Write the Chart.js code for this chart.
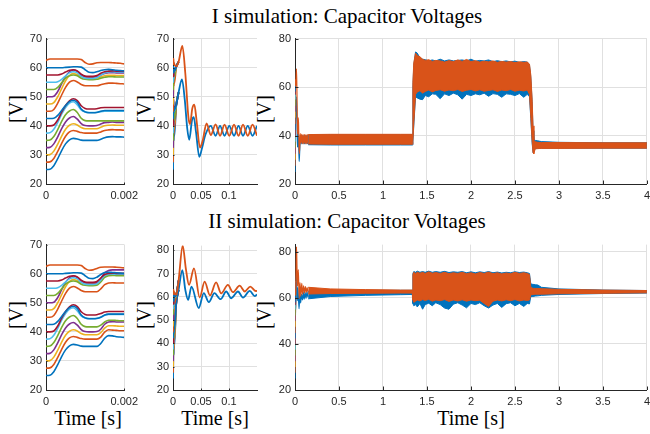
<!DOCTYPE html>
<html><head><meta charset="utf-8">
<script src="https://cdn.jsdelivr.net/npm/chart.js@4/dist/chart.umd.min.js"></script>
<style>
html,body{margin:0;padding:0;background:#fff;width:650px;height:434px;overflow:hidden;position:relative}
canvas{position:absolute}
.t{position:absolute;font-family:"Liberation Serif","Times New Roman",serif;color:#000;white-space:nowrap;font-size:20px;line-height:20px}
.ttl{font-size:21px;line-height:21px}
.c{transform:translateX(-50%)}
.r{transform:translate(-50%,-50%) rotate(-90deg)}
</style></head><body>
<div class="t ttl c" style="left:347px;top:6px">I simulation: Capacitor Voltages</div>
<div class="t ttl c" style="left:347px;top:211px">II simulation: Capacitor Voltages</div>
<div class="t r" style="left:16px;top:109px">[V]</div>
<div class="t r" style="left:144px;top:109px">[V]</div>
<div class="t r" style="left:264px;top:109px">[V]</div>
<div class="t r" style="left:16px;top:315px">[V]</div>
<div class="t r" style="left:144px;top:315px">[V]</div>
<div class="t r" style="left:264px;top:315px">[V]</div>
<div class="t c" style="left:88px;top:408px">Time [s]</div>
<div class="t c" style="left:215px;top:408px">Time [s]</div>
<div class="t c" style="left:471px;top:408px">Time [s]</div>
<canvas id="p1"></canvas><canvas id="p2"></canvas><canvas id="p3"></canvas>
<canvas id="p4"></canvas><canvas id="p5"></canvas><canvas id="p6"></canvas>
<script>
// ---------- data ----------
const colors = ['#0072BD','#D95319','#EDB120','#7E2F8E','#77AC30','#4DBEEE','#A2142F'];
const capT = [0,0.0001,0.0002,0.0003,0.0004,0.0005,0.0006,0.0007,0.0008,0.0009,0.001,0.0011,0.0012,0.0013,0.0014,0.0015,0.0016,0.0017,0.0018,0.0019,0.002];

const capsRow1 = [
 [25,25.1,26.3,28.7,31.5,33.8,35.2,35.7,35.5,35.1,35.0,35.0,35.0,35.0,35.4,35.9,36.2,36.3,36.2,36.2,36.1],
 [27.5,27.6,28.8,31.2,34.0,36.4,37.9,38.4,38.1,37.7,37.5,37.5,37.5,37.5,37.9,38.4,38.6,38.7,38.6,38.6,38.5],
 [30,30.1,31.3,33.7,36.5,38.8,40.2,40.7,40.3,39.4,39.0,39.0,39.0,39.0,39.5,40.0,40.2,40.3,40.2,40.2,40.2],
 [32.5,32.6,33.8,36.2,39.0,41.3,42.7,43.2,42.3,40.8,40.1,40.0,40.0,40.1,40.6,41.1,41.2,41.3,41.2,41.2,41.2],
 [35,35.1,36.3,38.7,41.5,43.8,45.1,45.6,44.6,42.6,41.8,41.7,41.7,41.7,41.7,41.7,41.7,41.7,41.7,41.7,41.7],
 [37.5,37.6,38.8,41.2,44.0,46.3,47.8,48.3,47.2,45.5,44.8,44.6,44.6,44.7,44.9,45.0,45.0,45.0,45.0,45.0,45.0],
 [40,40,40.3,42.0,44.7,47.0,48.6,49.3,48.7,46.9,46.0,45.8,45.8,45.9,46.2,46.3,46.3,46.3,46.3,46.3,46.3],
 [42.5,42.5,42.6,43.6,45.3,47.0,48.3,48.8,48.0,45.8,44.8,44.5,44.5,44.6,45.0,45.3,45.3,45.3,45.3,45.3,45.3],
 [45,45,45.6,47.8,50.6,53.2,55.0,55.6,55.1,54.2,53.8,53.8,53.8,53.8,54.1,54.5,54.7,54.7,54.6,54.5,54.4],
 [47.5,47.5,48.0,50.0,52.8,55.5,57.3,58.0,57.6,56.9,56.5,56.4,56.4,56.5,56.9,57.2,57.4,57.4,57.3,57.3,57.3],
 [50,50,50.2,51.8,54.5,57.0,58.6,59.2,58.7,57.5,56.9,56.8,56.8,56.9,57.5,58.0,58.3,58.3,58.2,58.2,58.2],
 [52.5,52.5,52.5,53.2,54.8,56.4,57.2,57.5,57.2,56.4,56.0,55.9,55.9,56.0,56.4,56.7,56.9,56.9,56.8,56.8,56.8],
 [55,55,55,55.2,56.0,57.2,58.2,58.6,58.2,57.0,56.4,56.3,56.3,56.6,57.5,58.2,58.5,58.6,58.5,58.5,58.5],
 [57.5,57.5,57.5,57.5,57.8,58.5,59.1,59.3,58.9,57.8,57.1,57.0,57.0,57.3,58.1,58.6,58.8,58.9,58.8,58.8,58.8],
 [60,60,60,60,60,60.1,60.2,60.3,60.3,60.2,59.3,58.4,58.3,58.6,59.0,59.3,59.4,59.3,59.1,59.0,58.9],
 [62.5,63.0,63.0,63.0,63.0,63.0,63.0,63.0,63.0,62.8,61.8,61.2,61.3,61.7,61.8,61.8,61.8,61.7,61.6,61.5,61.3]
];
const capsRow2 = [
 [25,25.1,26.3,28.7,31.5,33.8,35.2,35.7,35.5,35.1,35.0,35.0,35.0,35.0,36.0,37.8,38.7,38.6,38.3,38.2,38.1],
 [27.5,27.6,28.8,31.2,34.0,36.4,37.9,38.4,38.1,37.7,37.5,37.5,37.5,37.5,38.2,39.9,40.7,40.6,40.5,40.4,40.4],
 [30,30.1,31.3,33.7,36.5,38.8,40.2,40.7,40.3,39.4,39.0,39.0,39.0,39.0,39.7,41.3,42.1,42.1,42.0,41.9,41.9],
 [32.5,32.6,33.8,36.2,39.0,41.3,42.7,43.2,42.3,40.8,40.1,40.0,40.0,40.1,40.9,42.6,43.4,43.5,43.4,43.4,43.4],
 [35,35.1,36.3,38.7,41.5,43.8,45.1,45.6,44.6,42.6,41.8,41.7,41.7,41.7,42.3,43.4,44.0,44.0,43.9,43.8,43.8],
 [37.5,37.6,38.8,41.2,44.0,46.3,47.8,48.3,47.2,45.5,44.8,44.6,44.6,44.7,45.0,45.7,46.0,46.0,46.0,46.0,46.0],
 [40,40,40.3,42.0,44.7,47.0,48.6,49.3,48.7,46.9,46.0,45.8,45.8,45.9,46.3,46.8,47.0,47.0,47.0,47.0,47.0],
 [42.5,42.5,42.6,43.6,45.3,47.0,48.3,48.8,48.0,45.8,44.8,44.5,44.5,44.6,45.0,45.8,46.1,46.1,46.1,46.1,46.1],
 [45,45,45.6,47.8,50.6,53.2,55.0,55.6,55.1,54.2,53.8,53.8,53.8,53.8,54.8,56.2,56.8,56.9,56.8,56.8,56.8],
 [47.5,47.5,48.0,50.0,52.8,55.5,57.3,58.0,57.6,56.9,56.5,56.4,56.4,56.5,57.6,59.0,59.6,59.7,59.6,59.6,59.6],
 [50,50,50.2,51.8,54.5,57.0,58.6,59.2,58.7,57.5,56.9,56.8,56.8,56.9,58.3,60.3,61.1,61.3,61.3,61.3,61.3],
 [52.5,52.5,52.5,53.2,54.8,56.4,57.2,57.5,57.2,56.4,56.0,55.9,55.9,56.0,57.2,58.7,59.3,59.4,59.3,59.3,59.3],
 [55,55,55,55.2,56.0,57.2,58.2,58.6,58.2,57.0,56.4,56.3,56.3,56.5,57.8,59.3,59.8,59.9,59.8,59.8,59.8],
 [57.5,57.5,57.5,57.5,57.8,58.5,59.1,59.3,58.9,57.8,57.1,57.0,57.0,57.3,58.5,59.7,60.1,60.2,60.1,60.1,60.1],
 [60,60,60,60,60,60.1,60.2,60.3,60.3,60.2,59.3,58.4,58.3,58.8,59.7,60.4,60.5,60.4,60.3,60.2,60.1],
 [62.5,63.0,63.0,63.0,63.0,63.0,63.0,63.0,63.0,62.8,61.8,61.2,61.3,61.8,62.2,62.3,62.3,62.3,62.2,62.1,62.0]
];

// transient trajectories (group A = caps 0-7, group B = caps 8-15)
const trajA1T = [0.006,0.01,0.016,0.021,0.0255,0.029,0.034,0.037,0.041,0.047,0.052,0.058,0.0675,0.076,0.084,0.092,0.1005,0.109,0.117,0.125,0.1335,0.142,0.15];
const trajA1V = [47.5,51.5,56,49,39,35.2,42,43,38,29.3,32.5,37,40,36.6,40,36.6,40,36.6,40,36.6,40,36.6,40];
const trajB1T = [0.006,0.01,0.0167,0.022,0.0275,0.0304,0.0345,0.0381,0.042,0.0482,0.053,0.06,0.0675,0.076,0.084,0.092,0.1005,0.109,0.117,0.125,0.1335,0.142,0.15];
const trajB1V = [60.5,62,67.5,58,43,40.6,46,47.3,42,32.5,35,40.8,36.8,40.5,36.6,40.4,36.6,40.4,36.6,40.4,36.6,40.4,36.6];
const trajA2T = [0.006,0.01,0.0167,0.022,0.027,0.033,0.046,0.055,0.064,0.074,0.085,0.095,0.104,0.116,0.125,0.137,0.146,0.15];
const trajA2V = [58,63,71.5,63,58.7,64.4,55.2,61.6,57.7,61.6,59,62.3,59.4,62.3,59.7,62.6,60.3,61];
const trajB2T = [0.006,0.01,0.0173,0.023,0.0286,0.0375,0.0476,0.0565,0.066,0.077,0.086,0.098,0.107,0.119,0.128,0.138,0.148,0.15];
const trajB2V = [61,67,82,72,65.1,72.2,59.7,66.5,60.6,66.2,61.5,65.1,62,64.8,62.3,64.4,62.5,62.6];

// ripple envelopes over the full 4 s run
const bandT = [0.15,0.4,0.8,1.2,1.333,1.34,1.35,1.37,1.39,1.42,1.45,1.48,1.52,1.56,1.6,1.65,1.7,1.75,1.8,1.85,1.9,1.95,2.0,2.05,2.1,2.15,2.2,2.25,2.3,2.35,2.4,2.45,2.5,2.55,2.6,2.64,2.665,2.68,2.695,2.705,2.715,2.73,2.76,2.8,3.0,3.5,4.0];
const orangeHi1 = [40.4,40.5,40.5,40.5,40.5,62,70,74,73,72.5,71.5,71,71.3,70.6,71,70.8,70.3,70.9,70.5,71.2,70.6,71.4,70.5,70.9,70.3,70.7,70.4,70.8,70.2,70.6,70.3,70.5,70.1,70.4,70.2,70.3,69.5,65,55,44,38,37.4,37.2,37.1,37.1,37.0,37.0];
const orangeLo1 = [36.5,36.4,36.4,36.4,36.4,38,45,57,58,58.5,57.5,58.2,58.8,58,58.6,58.9,58.3,58.8,58.5,59,58.2,58.7,59,58.4,58.9,58.3,58.6,58.9,58.2,58.8,58.5,59,58.3,58.7,58.4,58.8,57,48,38,33,32.5,34.5,34.6,34.7,34.7,34.8,34.8];
const blueHi1 = [40.2,40.3,40.3,40.3,40.3,60,69,74.5,74,72,71.5,71.3,70.8,71.2,70.8,71.5,70.8,71.2,70.8,71,71.2,70.8,71.5,70.7,71,70.8,71.2,70.5,70.9,70.5,70.8,70.4,70.7,70.2,70.5,70.3,69,64,54,42,38.5,38,37.8,37.5,37.2,37.0,37.0];
const blueLo1 = [36.2,36.1,36.1,36.1,36.1,37.5,44,56,55.5,55,54.8,56.5,56,57.2,57,55.2,57.2,56.5,57.5,56.8,55,57,56.5,57.2,56.8,57.5,56.2,57.3,57,55.8,57.2,57,56.5,57.3,55.8,57,56,47,37,33,33,34.6,34.8,34.8,34.8,34.8,34.8];
const orangeHi2 = [64.5,63.8,63.5,63.3,63.3,70,71,70.5,71,70.6,71,70.5,71.2,70.6,70.9,70.5,71,70.4,70.8,70.5,71,70.4,70.8,70.3,70.9,70.5,71.1,70.4,70.8,70.3,70.7,70.4,71,70.5,70.8,70.5,70,64.5,64.2,64.1,64,64,64,63.9,63.6,63.3,63.1];
const orangeLo2 = [61.6,61.8,61.9,62.0,62.0,59,58,58.5,59,58.6,59.2,58.8,59.3,58.5,59,58.7,59.2,58.4,59,58.6,59.1,58.5,59,58.7,58.9,57.5,56.2,58.5,59,58.6,59.1,58.7,59.2,58.6,59,58.8,59,61.3,61.3,61.4,61.4,61.5,61.5,61.5,61.7,61.9,62.1];
const blueHi2 = [62.8,63.2,63.2,63.2,63.2,70.5,71.3,71,71.5,71,71.3,71,71.5,71,71.3,71,71.4,70.9,71.2,71,71.3,70.8,71.2,70.8,71.2,70.9,71.3,70.8,71.1,70.7,71,70.8,71.2,70.9,71.1,70.8,70.5,66,65.8,65.8,65.7,65.6,65.5,64.5,63.8,63.3,63.1];
const blueLo2 = [59.5,60.5,61.0,61.3,61.4,57.5,56.5,57,56,57.5,55,57,57.6,56.5,57.8,57,55.5,55,57.2,57.8,56.8,55.6,57.5,57,57.8,56.5,55.5,56.8,57.5,55.8,57.4,57.8,56.5,57.5,56.2,57.5,57.3,60.5,60.5,60.5,60.6,60.7,60.8,61,61.4,61.8,62.0];

// tick values
const xTicksZoom = [0,0.002];
const xTicksTrans = [0,0.05,0.1];
const xTicksFull = [0,0.5,1,1.5,2,2.5,3,3.5,4];
const yTicks10 = [20,30,40,50,60,70];
const yTicks10b = [20,30,40,50,60,70,80];
const yTicks20 = [20,40,60,80];

// ---------- helpers ----------
const TICKFONT = {family:'"Liberation Sans", Arial, Helvetica, sans-serif', size:11};
const TICKCOL = '#262626';
function pts(xs, ys){ return xs.map((x,i)=>({x:x, y:ys[i]})); }

function capDatasets(caps, tA, vA, tB, vB, withTraj, lw){
  return caps.map((ys,i)=>{
    let d = pts(capT, ys);
    if (withTraj){
      const tt = i<8 ? tA : tB, vv = i<8 ? vA : vB;
      const n = (i===7 || i===15) ? tt.length : 2;
      d = d.concat(pts(tt.slice(0,n), vv.slice(0,n)));
    }
    return {data:d, borderColor:colors[i%7], borderWidth:lw, pointRadius:0,
            cubicInterpolationMode:'monotone', fill:false, order:100-i};
  });
}
function bandDatasets(lo, hi, color, order){
  return [
    {data:pts(bandT, lo), borderColor:color, borderWidth:1, pointRadius:0, tension:0, fill:false, order:order},
    {data:pts(bandT, hi), borderColor:color, backgroundColor:color, borderWidth:1, pointRadius:0, tension:0, fill:'-1', order:order}
  ];
}
function axis(min, max, ticks, isX){
  return {type:'linear', min:min, max:max,
    afterBuildTicks: s => { s.ticks = ticks.map(v=>({value:v})); },
    afterFit: s => { if (isX) s.height = 22; else s.width = 40; },
    grid:{color:'#e0e0e0', lineWidth:1, drawTicks:false},
    border:{color:'#262626', width:1},
    ticks:{padding: isX ? 5 : 4, color:TICKCOL, font:TICKFONT, maxRotation:0, autoSkip:false,
           callback: v => String(v)}};
}
const tickMarks = {
  id:'tickMarks',
  afterDraw(chart){
    const {ctx, chartArea:a, scales:{x, y}} = chart;
    const L = chart.options.plugins.tickMarks.len;
    ctx.save(); ctx.strokeStyle = '#262626'; ctx.lineWidth = 1; ctx.beginPath();
    x.ticks.forEach(t=>{ const p = Math.round(x.getPixelForValue(t.value)) + 0.5; ctx.moveTo(p, a.bottom); ctx.lineTo(p, a.bottom - L); });
    y.ticks.forEach(t=>{ const p = Math.round(y.getPixelForValue(t.value)) + 0.5; ctx.moveTo(a.left, p); ctx.lineTo(a.left + L, p); });
    ctx.stroke(); ctx.restore();
  }
};
function makeChart(id, g, xs, ys, datasets, tickLen){
  const cv = document.getElementById(id);
  const padT = 8, padR = g.padR, yW = 40, xH = 22;
  const w = yW + g.W + padR, h = padT + g.H + xH;
  cv.width = w; cv.height = h;
  cv.style.width = w + 'px'; cv.style.height = h + 'px';
  cv.style.left = (g.L - yW) + 'px'; cv.style.top = (g.T - padT) + 'px';
  new Chart(cv, {type:'line', data:{datasets:datasets},
    options:{responsive:false, animation:false, devicePixelRatio:1,
      layout:{padding:{top:padT, right:padR, left:0, bottom:0}},
      plugins:{legend:{display:false}, tooltip:{enabled:false}, tickMarks:{len:tickLen}},
      elements:{point:{radius:0}},
      scales:{x:xs, y:ys}},
    plugins:[tickMarks]});
}

// ---------- row 1 ----------
makeChart('p1', {L:46, T:36, W:83, H:148, padR:14},
  axis(0, 0.002, xTicksZoom, true), axis(20, 70, yTicks10, false),
  capDatasets(capsRow1, null, null, null, null, false, 1.6), 1.5);
makeChart('p2', {L:173, T:36, W:84, H:148, padR:10},
  axis(0, 0.15, xTicksTrans, true), axis(20, 70, yTicks10, false),
  capDatasets(capsRow1, trajA1T, trajA1V, trajB1T, trajB1V, true, 1.8), 1.5);
makeChart('p3', {L:295, T:36, W:352, H:148, padR:8},
  axis(0, 4, xTicksFull, true), axis(20, 80, yTicks20, false),
  capDatasets(capsRow1, trajA1T, trajA1V, trajB1T, trajB1V, true, 1.2)
    .concat(bandDatasets(blueLo1, blueHi1, colors[0], 20))
    .concat(bandDatasets(orangeLo1, orangeHi1, colors[1], 10)), 3.5);

// ---------- row 2 ----------
makeChart('p4', {L:46, T:242, W:83, H:148, padR:14},
  axis(0, 0.002, xTicksZoom, true), axis(20, 70, yTicks10, false),
  capDatasets(capsRow2, null, null, null, null, false, 1.6), 1.5);
makeChart('p5', {L:173, T:243, W:84, H:147, padR:10},
  axis(0, 0.15, xTicksTrans, true), axis(20, 82, yTicks10b, false),
  capDatasets(capsRow2, trajA2T, trajA2V, trajB2T, trajB2V, true, 1.8), 1.5);
makeChart('p6', {L:295, T:242, W:352, H:148, padR:8},
  axis(0, 4, xTicksFull, true), axis(20, 83, yTicks20, false),
  capDatasets(capsRow2, trajA2T, trajA2V, trajB2T, trajB2V, true, 1.2)
    .concat(bandDatasets(blueLo2, blueHi2, colors[0], 20))
    .concat(bandDatasets(orangeLo2, orangeHi2, colors[1], 10)), 3.5);
</script>
</body></html>
